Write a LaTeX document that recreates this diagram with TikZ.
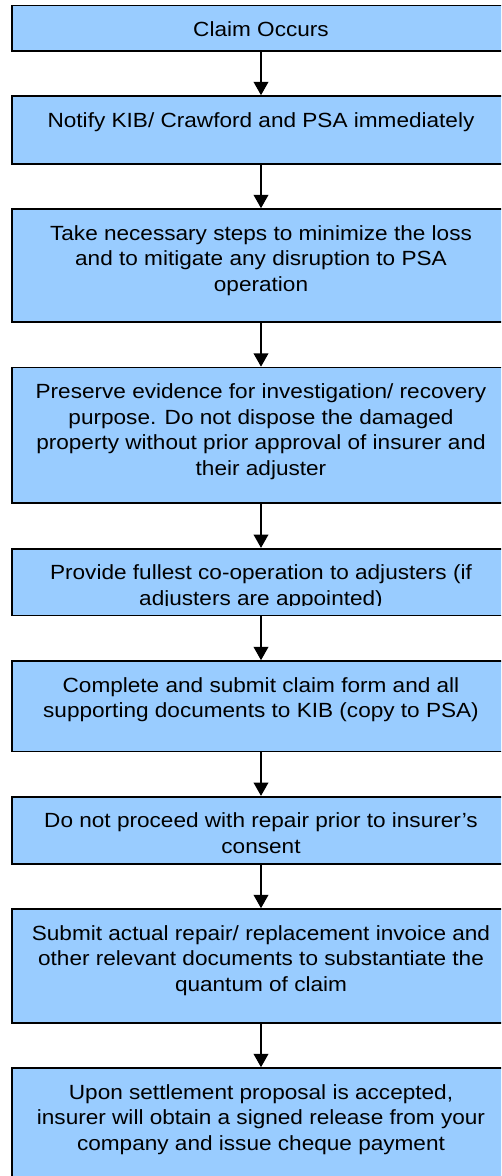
\documentclass[tikz,border=0pt]{standalone}
\usepackage{fontspec}
\setmainfont{Liberation Sans}[FakeStretch=1.1]
\usetikzlibrary{arrows.meta}
\definecolor{boxblue}{HTML}{99CCFF}
\def\upx{*0.75pt}
\tikzset{
  flowbox/.style={draw=black, fill=boxblue, line width=1.2pt, minimum width=498\upx, inner sep=0pt},
  flowtext/.style={anchor=north, align=center, inner sep=0pt, font=\fontsize{15.4pt}{19.1pt}\selectfont, yshift=-16.8\upx},
  flowarrow/.style={line width=1.2pt, -{Triangle[width=11pt,length=10pt]}}
}
\begin{document}
\begin{tikzpicture}[x=0.75pt,y=-0.75pt]
\clip (0,0) rectangle (501,1176);
\fill[white] (0,0) rectangle (501,1176);
% boxes
\node[flowbox, minimum height=45.3\upx]  (b1) at (261,28.35) {};
\node[flowbox, minimum height=68\upx]    (b2) at (261,130) {};
\node[flowbox, minimum height=113\upx]   (b3) at (261,265.5) {};
\node[flowbox, minimum height=135.2\upx] (b4) at (261,435.1) {};
\node[flowbox, minimum height=66.8\upx]  (b5) at (261,582.1) {};
\node[flowbox, minimum height=90.5\upx]  (b6) at (261,706.25) {};
\node[flowbox, minimum height=67.3\upx]  (b7) at (261,830.35) {};
\node[flowbox, minimum height=113.7\upx] (b8) at (261,965.85) {};
\node[flowbox, minimum height=135\upx]   (b9) at (261,1135.5) {};
% texts
\node[flowtext] (t1) at (b1.north) {Claim Occurs};
\node[flowtext] (t2) at (b2.north) {Notify KIB/ Crawford and PSA immediately};
\node[flowtext] (t3) at (b3.north) {Take necessary steps to minimize the loss\\and to mitigate any disruption to PSA\\operation};
\node[flowtext] (t4) at (b4.north) {Preserve evidence for investigation/ recovery\\purpose. Do not dispose the damaged\\property without prior approval of insurer and\\their adjuster};
\begin{scope}
\clip (12,548.7) rectangle (510,605);
\node[flowtext] (t5) at (b5.north) {Provide fullest co-operation to adjusters (if\\adjusters are appointed)};
\end{scope}
\node[flowtext] (t6) at (b6.north) {Complete and submit claim form and all\\supporting documents to KIB (copy to PSA)};
\node[flowtext] (t7) at (b7.north) {Do not proceed with repair prior to insurer’s\\consent};
\node[flowtext] (t8) at (b8.north) {Submit actual repair/ replacement invoice and\\other relevant documents to substantiate the\\quantum of claim};
\node[flowtext] (t9) at (b9.north) {Upon settlement proposal is accepted,\\insurer will obtain a signed release from your\\company and issue cheque payment};
% arrows
\draw[flowarrow] (b1.south) -- (b2.north);
\draw[flowarrow] (b2.south) -- (b3.north);
\draw[flowarrow] (b3.south) -- (b4.north);
\draw[flowarrow] (b4.south) -- (b5.north);
\draw[flowarrow] (b5.south) -- (b6.north);
\draw[flowarrow] (b6.south) -- (b7.north);
\draw[flowarrow] (b7.south) -- (b8.north);
\draw[flowarrow] (b8.south) -- (b9.north);
\end{tikzpicture}
\end{document}
